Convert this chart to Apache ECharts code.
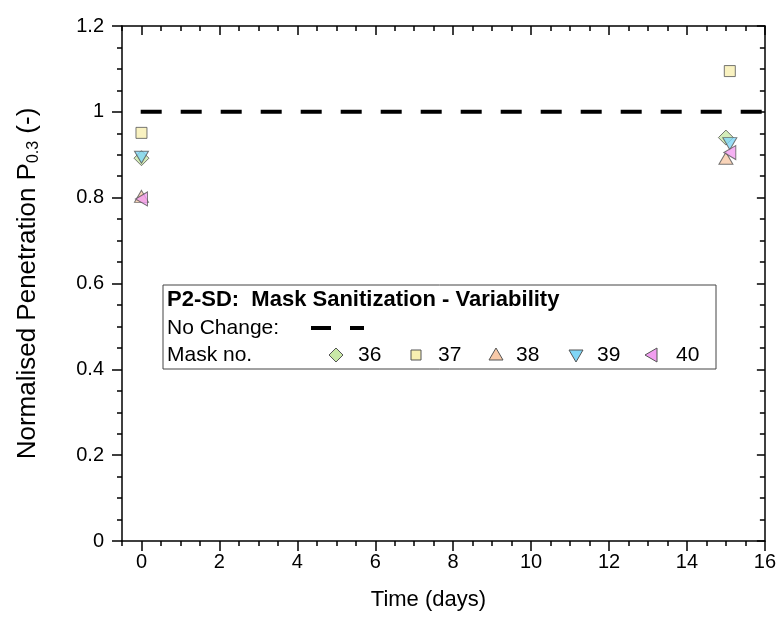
<!DOCTYPE html>
<html>
<head>
<meta charset="utf-8">
<script src="https://cdn.jsdelivr.net/npm/echarts@6/dist/echarts.min.js"></script>
<style>
  html, body { margin: 0; padding: 0; background: #fff; }
  #main { width: 779px; height: 621px; }
</style>
</head>
<body>
<div id="main"></div>
<script>
// ---- data ----
var maskNames = ['36', '37', '38', '39', '40'];
var mask36 = [[0, 0.892], [15.0, 0.940]];
var mask37 = [[0, 0.951], [15.1, 1.095]];
var mask38 = [[0, 0.803], [15.0, 0.892]];
var mask39 = [[0, 0.894], [15.1, 0.926]];
var mask40 = [[0, 0.797], [15.1, 0.905]];
var noChangeX = [-0.5, 16];
var noChangeY = [1, 1];
var xMajorTicks = [0, 2, 4, 6, 8, 10, 12, 14, 16];
var xMinorTicks = [-0.5, 0.5, 1, 1.5, 2.5, 3, 3.5, 4.5, 5, 5.5, 6.5, 7, 7.5, 8.5, 9, 9.5,
                   10.5, 11, 11.5, 12.5, 13, 13.5, 14.5, 15, 15.5];

var FONT = 'Liberation Sans, Arial, sans-serif';
var downTri = 'path://M0,0 L10,0 L5,9 Z';
var leftTri = 'path://M9,0 L9,10 L0,5 Z';
var maskSymbols = ['diamond', 'rect', 'triangle', downTri, leftTri];
var maskSizes = [[15, 15], [11, 11], [14, 12], [14, 12], [12, 14]];
var maskColors = ['#c9e9a7', '#f8efb1', '#f8c9a8', '#80d6f6', '#f29ef0'];
var maskData = [mask36, mask37, mask38, mask39, mask40];

var myChart = echarts.init(document.getElementById('main'));

var axisLine = { show: true, onZero: false, lineStyle: { color: '#000', width: 1.5 } };
var noLine = { show: false, onZero: false };
var tickStyle = { color: '#000', width: 1.5 };

var series = [];
//参考线 No Change
series.push({
    name: 'No Change',
    type: 'line',
    xAxisIndex: 0, yAxisIndex: 0,
    data: noChangeX.map(function(x, i) { return [x, noChangeY[i]]; }),
    symbol: 'none',
    silent: true,
    lineStyle: { color: '#000', width: 4, type: [21, 19], dashOffset: 21.3, cap: 'butt' },
    z: 1
});
maskData.forEach(function(d, i) {
    series.push({
        name: maskNames[i],
        type: 'scatter',
        xAxisIndex: 0, yAxisIndex: 0,
        data: d,
        symbol: maskSymbols[i],
        symbolSize: maskSizes[i],
        itemStyle: { color: maskColors[i], borderColor: '#555', borderWidth: 1 },
        z: 3 + i
    });
});

// legend box drawn with graphic
var lx = 163, ly = 285, lw = 553, lh = 84;
var r1 = ly + 15, r2 = ly + 43, r3 = ly + 70;
var symX = [336, 416, 496, 576, 652];
var numX = [358, 438, 516, 597, 676];
var legendEls = [
    { type: 'rect', shape: { x: lx, y: ly, width: lw, height: lh },
      style: { fill: '#fff', stroke: '#444', lineWidth: 1 } },
    { type: 'text', x: lx + 4, y: r1, style: { text: 'P2-SD:  Mask Sanitization - Variability',
      font: 'bold 22px ' + FONT, fill: '#000', verticalAlign: 'middle' } },
    { type: 'text', x: lx + 4, y: r2, style: { text: 'No Change:',
      font: '21px ' + FONT, fill: '#000', verticalAlign: 'middle' } },
    { type: 'line', shape: { x1: 311, y1: r2, x2: 331, y2: r2 }, style: { stroke: '#000', lineWidth: 4 } },
    { type: 'line', shape: { x1: 350, y1: r2, x2: 364, y2: r2 }, style: { stroke: '#000', lineWidth: 4 } },
    { type: 'text', x: lx + 4, y: r3, style: { text: 'Mask no.',
      font: '21px ' + FONT, fill: '#000', verticalAlign: 'middle' } }
];
var sStyle = function(i) { return { fill: maskColors[i], stroke: '#555', lineWidth: 1 }; };
legendEls.push({ type: 'polygon', shape: { points: [[symX[0], r3 - 7], [symX[0] + 7, r3], [symX[0], r3 + 7], [symX[0] - 7, r3]] }, style: sStyle(0) });
legendEls.push({ type: 'rect', shape: { x: symX[1] - 5, y: r3 - 5, width: 10, height: 10 }, style: sStyle(1) });
legendEls.push({ type: 'polygon', shape: { points: [[symX[2], r3 - 7], [symX[2] + 7, r3 + 5], [symX[2] - 7, r3 + 5]] }, style: sStyle(2) });
legendEls.push({ type: 'polygon', shape: { points: [[symX[3] - 7, r3 - 5], [symX[3] + 7, r3 - 5], [symX[3], r3 + 7]] }, style: sStyle(3) });
legendEls.push({ type: 'polygon', shape: { points: [[symX[4] + 5, r3 - 7], [symX[4] + 5, r3 + 7], [symX[4] - 7, r3]] }, style: sStyle(4) });
maskNames.forEach(function(n, i) {
    legendEls.push({ type: 'text', x: numX[i], y: r3, style: { text: n, font: '21px ' + FONT,
        fill: '#000', verticalAlign: 'middle' } });
});

var option = {
    backgroundColor: '#fff',
    animation: false,
    textStyle: { fontFamily: FONT },
    grid: { left: 122, right: 13, top: 26, bottom: 80, containLabel: false },
    xAxis: [
        {
            type: 'value', position: 'bottom', min: -0.5, max: 16,
            axisLine: axisLine,
            axisTick: { show: true, inside: false, length: 10, lineStyle: tickStyle, customValues: xMajorTicks },
            axisLabel: { show: true, fontSize: 20, color: '#000', margin: 11, customValues: xMajorTicks },
            splitLine: { show: false },
            name: 'Time (days)', nameLocation: 'middle', nameGap: 48,
            nameTextStyle: { fontSize: 22, color: '#000', padding: [0, 30, 0, 0] }
        },
        {
            type: 'value', position: 'bottom', min: -0.5, max: 16,
            axisLine: noLine,
            axisTick: { show: true, inside: false, length: 5, lineStyle: tickStyle, customValues: xMinorTicks },
            axisLabel: { show: false },
            splitLine: { show: false }
        },
        {
            type: 'value', position: 'top', min: -0.5, max: 16,
            axisLine: axisLine,
            axisTick: { show: true, inside: true, length: 9, lineStyle: tickStyle, customValues: xMajorTicks },
            axisLabel: { show: false },
            splitLine: { show: false }
        },
        {
            type: 'value', position: 'top', min: -0.5, max: 16,
            axisLine: noLine,
            axisTick: { show: true, inside: true, length: 5, lineStyle: tickStyle, customValues: xMinorTicks },
            axisLabel: { show: false },
            splitLine: { show: false }
        }
    ],
    yAxis: [
        {
            type: 'value', position: 'left', min: 0, max: 1.2, interval: 0.2,
            axisLine: axisLine,
            axisTick: { show: true, inside: false, length: 10, lineStyle: tickStyle },
            minorTick: { show: true, splitNumber: 4, length: 5, lineStyle: tickStyle },
            axisLabel: { fontSize: 20, color: '#000', margin: 18,
                formatter: function(v) { return String(Math.round(v * 10) / 10); } },
            splitLine: { show: false },
            name: '{a|Normalised Penetration P}{b|0.3}{a| (-)}',
            nameLocation: 'middle', nameGap: 80, nameRotate: 90,
            nameTextStyle: {
                rich: {
                    a: { fontSize: 26, color: '#000', fontFamily: FONT },
                    b: { fontSize: 16, color: '#000', fontFamily: FONT, padding: [12, 0, 0, 0] }
                }
            }
        },
        {
            type: 'value', position: 'right', min: 0, max: 1.2, interval: 0.2,
            axisLine: axisLine,
            axisTick: { show: true, inside: true, length: 8, lineStyle: tickStyle },
            minorTick: { show: true, splitNumber: 4, length: 5, lineStyle: tickStyle },
            axisLabel: { show: false },
            splitLine: { show: false }
        }
    ],
    graphic: legendEls,
    series: series
};

myChart.setOption(option);
</script>
</body>
</html>
